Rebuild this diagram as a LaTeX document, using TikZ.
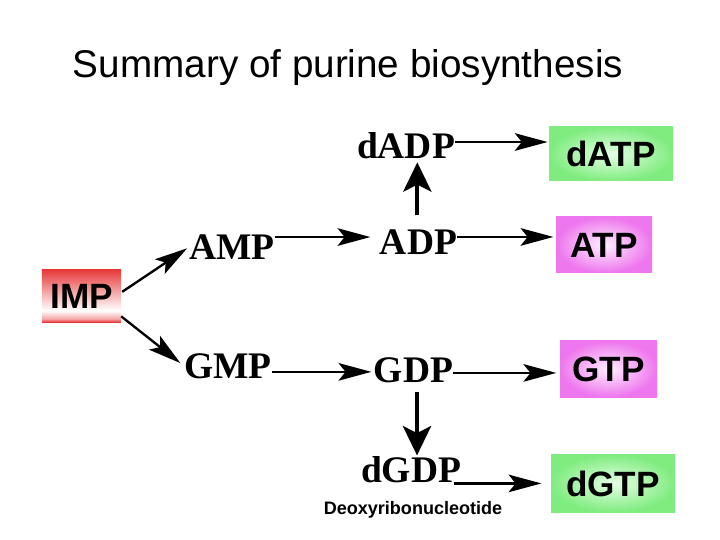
\documentclass[tikz,border=0pt]{standalone}
\usepackage{fontspec}
\setmainfont{Liberation Serif}
\setsansfont{Liberation Sans}
\usetikzlibrary{arrows.meta}
\definecolor{impred}{RGB}{232,58,58}
\definecolor{dgreen}{RGB}{128,236,128}
\definecolor{tpink}{RGB}{238,118,238}
\pgfdeclareverticalshading{impshade}{100bp}{color(0bp)=(impred); color(25bp)=(impred);
  color(28bp)=(impred!45); color(36bp)=(white); color(52bp)=(impred!40);
  color(75bp)=(impred); color(100bp)=(impred)}
\begin{document}
\begin{tikzpicture}[x=0.03cm,y=-0.03cm,
    lbl/.style={inner sep=0pt,font=\bfseries\fontsize{32}{32}\selectfont},
    ntp/.style={inner sep=0pt,font=\sffamily\bfseries\fontsize{30}{30}\selectfont},
    dbox/.style={ntp,inner color=green!10,outer color=dgreen},
    pbox/.style={ntp,inner color=magenta!6,outer color=tpink},
    arr/.style={line width=2pt,-{Stealth[length=28pt,width=15pt,inset=6pt]}},
    varr/.style={line width=3.6pt,-{Stealth[length=25pt,width=24pt,inset=6pt]}},
  ]
  \useasboundingbox (0,0) rectangle (720,540);
  \node (title) at (348,68) {\sffamily\fontsize{33}{33}\selectfont Summary of purine biosynthesis};
  % start and the two branches
  \node[ntp,shading=impshade,minimum width=2.37cm,minimum height=1.56cm] (imp) at (81.5,296) {IMP};
  \node[lbl] (amp) at (232,247) {AMP};
  \node[lbl] (gmp) at (228,366) {GMP};
  \node[lbl] (adp) at (418.5,242) {ADP};
  \node[lbl] (dadp) at (406,146) {dADP};
  \node[lbl] (gdp) at (413.5,370) {GDP};
  \node[lbl] (dgdp) at (411,470) {dGDP};
  % triphosphates
  \node[dbox,minimum width=3.72cm,minimum height=1.62cm] (datp) at (611,154) {dATP};
  \node[pbox,minimum width=2.88cm,minimum height=1.68cm] (atp) at (604,245) {ATP};
  \node[pbox,minimum width=2.91cm,minimum height=1.68cm] (gtp) at (608.5,369) {GTP};
  \node[dbox,minimum width=3.72cm,minimum height=1.71cm] (dgtp) at (613,483.5) {dGTP};
  \node (deoxy) at (413,510) {\sffamily\bfseries\fontsize{15.4}{15.4}\selectfont Deoxyribonucleotide};
  % arrows
  \draw[arr,shorten <=1pt,shorten >=2pt] ([yshift=3pt]imp.east) -- (amp.west);
  \draw[arr,shorten >=4pt] ([yshift=5pt]imp.south east) -- (gmp.west);
  \draw[arr,shorten >=8pt] ([yshift=8.5pt]amp.east) -- ([yshift=8.5pt]amp.east -| adp.west);
  \draw[arr,shorten >=2pt] ([yshift=4.3pt]adp.east) -- ([yshift=4.3pt]adp.east -| atp.west);
  \draw[arr,shorten >=1pt] ([yshift=3.4pt]dadp.east) -- ([yshift=3.4pt]dadp.east -| datp.west);
  \draw[varr,shorten <=12pt,shorten >=2.5pt] ([xshift=-1pt]adp.north) -- ([xshift=-1pt]adp.north |- dadp.south);
  \draw[arr,shorten >=2pt] ([yshift=-5pt]gmp.east) -- ([yshift=-5pt]gmp.east -| gdp.west);
  \draw[arr,shorten >=3pt] ([yshift=-2.5pt]gdp.east) -- ([yshift=-2.5pt]gdp.east -| gtp.west);
  \draw[varr,shorten <=8pt,shorten >=1pt] ([xshift=3pt]gdp.south) -- ([xshift=3pt]gdp.south |- dgdp.north);
  \draw[arr,shorten >=2pt] ([xshift=-6pt]dgdp.south east) -- ([xshift=-6pt]dgdp.south east -| dgtp.west);
\end{tikzpicture}
\end{document}
